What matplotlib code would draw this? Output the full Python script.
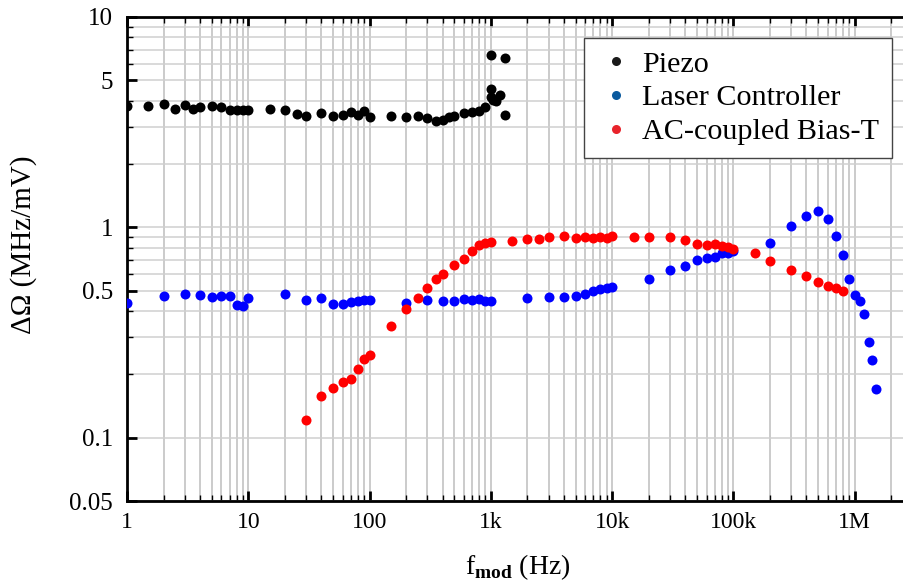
import matplotlib
matplotlib.use('Agg')
import matplotlib.pyplot as plt
from matplotlib.ticker import FixedLocator, LogLocator, NullFormatter
from matplotlib.lines import Line2D

plt.rcParams['font.family'] = ['Liberation Serif', 'DejaVu Serif']
plt.rcParams['mathtext.fontset'] = 'custom'
plt.rcParams['mathtext.rm'] = 'Liberation Serif'
plt.rcParams['mathtext.bf'] = 'Liberation Serif:bold'

# Piezo
f_piezo = [1, 1.5, 2, 2.5, 3, 3.5, 4, 5, 6, 7, 8, 9, 10, 15, 20, 25, 30, 40, 50,
           60, 70, 80, 90, 100, 150, 200, 250, 300, 350, 400, 450, 500, 600, 700,
           800, 900, 1000, 1000, 1000, 1050, 1100, 1200, 1300, 1300]
v_piezo = [3.77, 3.77, 3.84, 3.67, 3.80, 3.67, 3.75, 3.78, 3.74, 3.62, 3.62, 3.63,
           3.63, 3.66, 3.62, 3.47, 3.38, 3.51, 3.40, 3.43, 3.53, 3.43, 3.57, 3.34,
           3.39, 3.34, 3.39, 3.30, 3.22, 3.25, 3.36, 3.39, 3.48, 3.53, 3.59, 3.73,
           4.16, 4.56, 6.59, 4.05, 4.00, 4.28, 6.40, 3.43]

# Laser Controller
f_laser = [1, 2, 3, 4, 5, 6, 7, 8, 9, 10, 20, 30, 40, 50, 60, 70, 80, 90, 100,
           200, 300, 400, 500, 600, 700, 800, 900, 1000, 2000, 3000, 4000, 5000,
           6000, 7000, 8000, 9000, 10000, 20000, 30000, 40000, 50000, 60000, 70000,
           80000, 90000, 100000, 200000, 300000, 400000, 500000, 600000, 700000,
           800000, 900000, 1.0e6, 1.1e6, 1.2e6, 1.3e6, 1.4e6, 1.5e6]
v_laser = [0.435, 0.470, 0.481, 0.475, 0.467, 0.471, 0.471, 0.429, 0.423, 0.462,
           0.482, 0.450, 0.460, 0.431, 0.434, 0.443, 0.447, 0.452, 0.452, 0.439,
           0.452, 0.449, 0.446, 0.456, 0.450, 0.458, 0.449, 0.449, 0.460, 0.465,
           0.465, 0.474, 0.482, 0.497, 0.508, 0.515, 0.523, 0.566, 0.625, 0.655,
           0.702, 0.718, 0.726, 0.752, 0.758, 0.771, 0.846, 1.02, 1.13, 1.195,
           1.094, 0.906, 0.742, 0.570, 0.477, 0.445, 0.388, 0.285, 0.233, 0.171]

# AC-coupled Bias-T
f_bias = [30, 40, 50, 60, 70, 80, 90, 100, 150, 200, 250, 300, 350, 400, 500, 600,
          700, 800, 900, 1000, 1500, 2000, 2500, 3000, 4000, 5000, 6000, 7000,
          8000, 9000, 10000, 15000, 20000, 30000, 40000, 50000, 60000, 70000,
          80000, 90000, 100000, 150000, 200000, 300000, 400000, 500000, 600000,
          700000, 800000]
v_bias = [0.121, 0.157, 0.172, 0.185, 0.191, 0.213, 0.237, 0.247, 0.341, 0.411,
          0.462, 0.513, 0.566, 0.600, 0.660, 0.710, 0.771, 0.828, 0.840, 0.855,
          0.861, 0.880, 0.880, 0.896, 0.913, 0.894, 0.900, 0.894, 0.900, 0.894,
          0.910, 0.903, 0.900, 0.900, 0.874, 0.837, 0.828, 0.837, 0.815, 0.803,
          0.792, 0.752, 0.689, 0.625, 0.585, 0.550, 0.528, 0.517, 0.499]

x_ticks = [1, 10, 100, 1e3, 1e4, 1e5, 1e6]
x_labels = ['1', '10', '100', '1k', '10k', '100k', '1M']
y_ticks = [0.05, 0.1, 0.5, 1, 5, 10]
y_labels = ['0.05', '0.1', '0.5', '1', '5', '10']
y_minor = [0.2, 0.3, 0.4, 0.6, 0.7, 0.8, 0.9, 2, 3, 4, 6, 7, 8, 9]

fig = plt.figure(figsize=(9.04, 5.86), dpi=100)
ax = fig.add_axes([0.1405, 0.145, 0.869, 0.826])

ms = 7.2
ax.plot(f_piezo, v_piezo, 'o', color='black', ms=ms, mec='none', zorder=3)
ax.plot(f_laser, v_laser, 'o', color='#0000ff', ms=ms, mec='none', zorder=3)
ax.plot(f_bias, v_bias, 'o', color='#ff0000', ms=ms, mec='none', zorder=4)

ax.set_xscale('log')
ax.set_yscale('log')
ax.set_xlim(1, 3e6)
ax.set_ylim(0.05, 10)

ax.set_xticks(x_ticks)
ax.set_xticklabels(x_labels)
ax.xaxis.set_minor_locator(LogLocator(base=10, subs=range(2, 10), numticks=20))
ax.xaxis.set_minor_formatter(NullFormatter())
ax.set_yticks(y_ticks)
ax.set_yticklabels(y_labels)
ax.yaxis.set_minor_locator(FixedLocator(y_minor))
ax.yaxis.set_minor_formatter(NullFormatter())

ax.grid(True, which='both', axis='x', color='#bdbdbd', lw=1.1, zorder=0)
ax.grid(True, which='both', axis='y', color='#cfcfcf', lw=1.1, zorder=0)
ax.set_axisbelow(True)

ax.tick_params(which='both', direction='in', top=True, right=True, color='black')
ax.tick_params(which='major', length=7, width=2)
ax.tick_params(which='minor', length=4, width=1)
ax.tick_params(axis='x', pad=8, labelsize=17)
ax.tick_params(axis='y', pad=10, labelsize=18)

for side in ['left', 'bottom', 'top', 'right']:
    ax.spines[side].set_linewidth(2)

ax.set_xlabel(r'f$_{\mathbf{mod}}$ (Hz)', fontsize=20)
ax.set_ylabel('ΔΩ (MHz/mV)', fontsize=21)
ax.xaxis.set_label_coords(0.497, -0.105)
ax.yaxis.set_label_coords(-0.115, 0.529)

handles = [
    Line2D([], [], ls='none', marker='o', ms=6.5, color='#1a1a1a', mec='none'),
    Line2D([], [], ls='none', marker='o', ms=6.5, color='#0b5a9e', mec='none'),
    Line2D([], [], ls='none', marker='o', ms=6.5, color='#e8232b', mec='none'),
]
leg = fig.legend(handles, ['Piezo', 'Laser Controller', 'AC-coupled Bias-T'],
                 loc='upper right', bbox_to_anchor=(892 / 904, 1 - 38 / 586),
                 fontsize=21.7, frameon=True, fancybox=False, borderaxespad=0,
                 handletextpad=0.25, labelspacing=0.22, borderpad=0.42,
                 handlelength=1.25)
leg.get_frame().set_edgecolor('#444444')
leg.get_frame().set_linewidth(1.0)
leg.get_frame().set_alpha(1)

fig.savefig('out.png', dpi=100)
